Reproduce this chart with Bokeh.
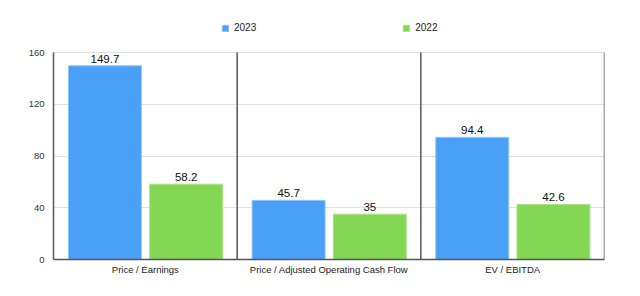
from bokeh.plotting import figure
from bokeh.models import ColumnDataSource, FactorRange, Range1d, Legend, LegendItem, FixedTicker
from bokeh.transform import dodge
from bokeh.core.properties import value
from bokeh.embed import file_html
from bokeh.resources import INLINE

categories = ["Price / Earnings", "Price / Adjusted Operating Cash Flow", "EV / EBITDA"]
values_2023 = [149.7, 45.7, 94.4]
values_2022 = [58.2, 35, 42.6]
y_ticks = [0, 40, 80, 120, 160]

BLUE = "#4a9ff7"
GREEN = "#84d655"
FONT = "Liberation Sans"
Y_MAX = max(y_ticks)

# frame geometry: the value axis spans 207px, with headroom above for the legend
FRAME_H = 249
AXIS_H = 207

def fmt(v):
    return "%g" % v

src = ColumnDataSource(dict(
    cat=categories,
    v23=values_2023,
    v22=values_2022,
    t23=[fmt(v) for v in values_2023],
    t22=[fmt(v) for v in values_2022],
))

p = figure(
    x_range=FactorRange(*categories, range_padding=0),
    y_range=Range1d(0, Y_MAX * FRAME_H / AXIS_H),
    width=640, height=296,
    min_border_left=53, min_border_right=36,
    min_border_top=296 - 37 - FRAME_H, min_border_bottom=37,
    output_backend="svg", toolbar_location=None,
)
p.outline_line_color = None
p.background_fill_color = "white"
p.border_fill_color = "white"

r23 = p.vbar(x=dodge("cat", -0.22, range=p.x_range), top="v23", width=0.397,
             source=src, fill_color=BLUE, line_color="#8cc4fa", line_width=1)
r22 = p.vbar(x=dodge("cat", 0.222, range=p.x_range), top="v22", width=0.397,
             source=src, fill_color=GREEN, line_color="#a8e283", line_width=1)

for col, vcol, off in (("t23", "v23", -0.22), ("t22", "v22", 0.222)):
    p.text(x=dodge("cat", off, range=p.x_range), y=vcol, text=col,
           source=src, text_align="center", text_baseline="bottom", y_offset=-3,
           text_font=value(FONT), text_font_size="11.5px", text_color="#111111")

# group separators and right edge, from zero to the top of the value axis
n = len(categories)
seps = list(range(1, n + 1))
p.segment(x0=seps, y0=[0] * n, x1=seps, y1=[Y_MAX] * n,
          line_color="#555555", line_width=1.5)

p.xgrid.grid_line_color = None
p.ygrid.ticker = FixedTicker(ticks=y_ticks)
p.ygrid.grid_line_color = "#e0e0e0"
p.ygrid.grid_line_width = 1

p.yaxis.ticker = FixedTicker(ticks=y_ticks)
p.yaxis.bounds = (0, Y_MAX)
p.yaxis.axis_line_color = "#555555"
p.yaxis.axis_line_width = 1.5
p.yaxis.major_tick_line_color = None
p.yaxis.major_tick_out = 0
p.yaxis.minor_tick_line_color = None
p.yaxis.major_label_text_font = FONT
p.yaxis.major_label_text_font_size = "9.5px"
p.yaxis.major_label_text_color = "#333333"
p.yaxis.major_label_standoff = 9

p.xaxis.axis_line_color = "#555555"
p.xaxis.axis_line_width = 1.5
p.xaxis.major_tick_line_color = None
p.xaxis.major_tick_out = 0
p.xaxis.minor_tick_line_color = None
p.xaxis.major_label_text_font = FONT
p.xaxis.major_label_text_font_size = "9.5px"
p.xaxis.major_label_text_color = "#222222"
p.xaxis.major_label_standoff = 4

legend = Legend(items=[LegendItem(label="2023", renderers=[r23]),
                       LegendItem(label="2022", renderers=[r22])],
                orientation="horizontal", location=(168, 226),
                glyph_width=8, glyph_height=8, label_standoff=5, spacing=146,
                label_text_font=FONT, label_text_font_size="10px",
                label_text_color="#222222", border_line_color=None,
                background_fill_alpha=0, padding=0, margin=0)
p.add_layout(legend, "center")

open("out.html", "w").write(file_html(p, INLINE))
